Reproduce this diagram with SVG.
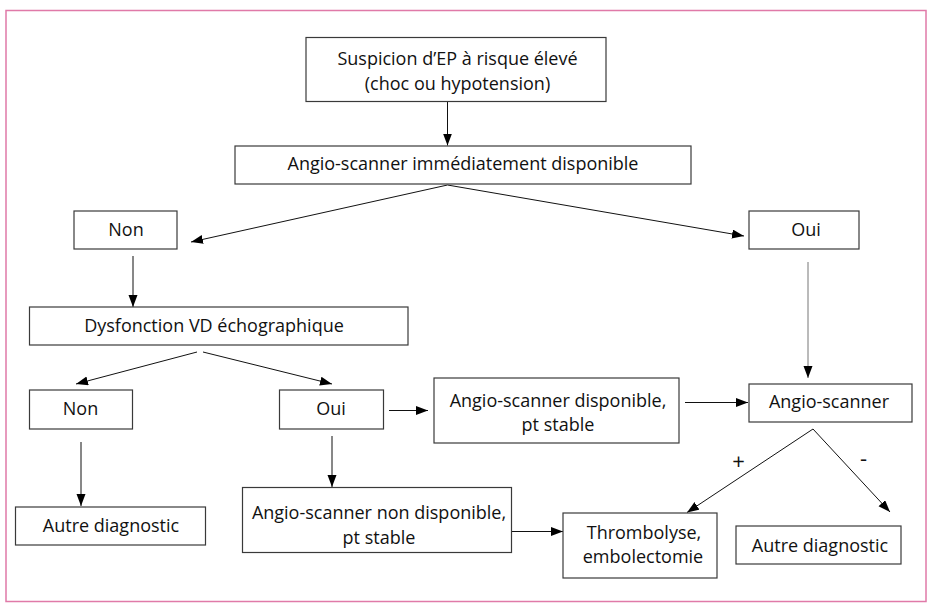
<svg xmlns="http://www.w3.org/2000/svg" width="934" height="609" viewBox="0 0 934 609">
<style>
.box{fill:#fff;stroke:#3a3a3a;stroke-width:1.2}
.t{font-family:"Open Sans","Noto Sans",sans-serif;font-size:18px;fill:#111;text-anchor:middle}
.c{stroke:#111;stroke-width:1;fill:none;marker-end:url(#ah)}
.g{stroke:#777}
.s{font-size:22px}
</style>
<defs>
<marker id="ah" markerUnits="userSpaceOnUse" markerWidth="13" markerHeight="10" refX="12" refY="4.5" orient="auto">
<path d="M0,0 L12,4.5 L0,9 z" fill="#000"/>
</marker>
</defs>
<rect x="6" y="10.5" width="920" height="591" fill="#fff" stroke="#e07aa8" stroke-width="1.5"/>
<g id="connectors">
<line class="c" x1="447.5" y1="102" x2="447.5" y2="145.5"/>
<line class="c" x1="447.5" y1="185" x2="191" y2="242"/>
<line class="c" x1="447.5" y1="185" x2="744" y2="236"/>
<line class="c" x1="133" y1="256" x2="133" y2="307"/>
<line class="c g" x1="808" y1="262" x2="808" y2="378"/>
<line class="c" x1="197" y1="352" x2="76" y2="384"/>
<line class="c" x1="203" y1="352" x2="332" y2="384"/>
<line class="c" x1="389" y1="410.5" x2="428" y2="410.5"/>
<line class="c" x1="685" y1="402.5" x2="748" y2="402.5"/>
<line class="c" x1="81" y1="442" x2="81" y2="506"/>
<line class="c" x1="332" y1="436" x2="332" y2="487"/>
<line class="c" x1="512" y1="531.5" x2="563" y2="531.5"/>
<line class="c" x1="813" y1="429" x2="687" y2="512.5"/>
<line class="c" x1="813" y1="429" x2="890" y2="512"/>
<text class="t s" x="738.5" y="469">+</text>
<text class="t s" x="863.5" y="465.5">-</text>
</g>
<g id="n1"><rect class="box" x="306" y="37.5" width="300" height="64"/>
<text class="t" x="457.5" y="65">Suspicion d’EP à risque élevé</text>
<text class="t" x="457.5" y="89.5">(choc ou hypotension)</text></g>
<g id="n2"><rect class="box" x="235" y="146" width="456" height="38"/>
<text class="t" x="463" y="170">Angio-scanner immédiatement disponible</text></g>
<g id="n3"><rect class="box" x="74" y="211" width="103" height="38"/>
<text class="t" x="126" y="236">Non</text></g>
<g id="n4"><rect class="box" x="749" y="211" width="110" height="38"/>
<text class="t" x="806" y="236">Oui</text></g>
<g id="n5"><rect class="box" x="29.5" y="307" width="378.5" height="38"/>
<text class="t" x="214" y="332">Dysfonction VD échographique</text></g>
<g id="n6"><rect class="box" x="29.5" y="390" width="103" height="39"/>
<text class="t" x="80.5" y="415">Non</text></g>
<g id="n7"><rect class="box" x="279.5" y="390" width="104" height="39"/>
<text class="t" x="331" y="415">Oui</text></g>
<g id="n8"><rect class="box" x="434" y="378" width="245" height="65"/>
<text class="t" x="558" y="406.5">Angio-scanner disponible,</text>
<text class="t" x="558" y="431">pt stable</text></g>
<g id="n9"><rect class="box" x="749" y="384" width="163" height="38"/>
<text class="t" x="829" y="408">Angio-scanner</text></g>
<g id="n10"><rect class="box" x="15.5" y="507" width="190" height="38"/>
<text class="t" x="111" y="532">Autre diagnostic</text></g>
<g id="n11"><rect class="box" x="242.5" y="487.5" width="269" height="65"/>
<text class="t" x="379" y="519">Angio-scanner non disponible,</text>
<text class="t" x="379" y="543.5">pt stable</text></g>
<g id="n12"><rect class="box" x="563" y="513" width="154" height="65"/>
<text class="t" x="644" y="538.5">Thrombolyse,</text>
<text class="t" x="643" y="563">embolectomie</text></g>
<g id="n13"><rect class="box" x="736" y="526" width="165" height="38"/>
<text class="t" x="820" y="552">Autre diagnostic</text></g>
</svg>
